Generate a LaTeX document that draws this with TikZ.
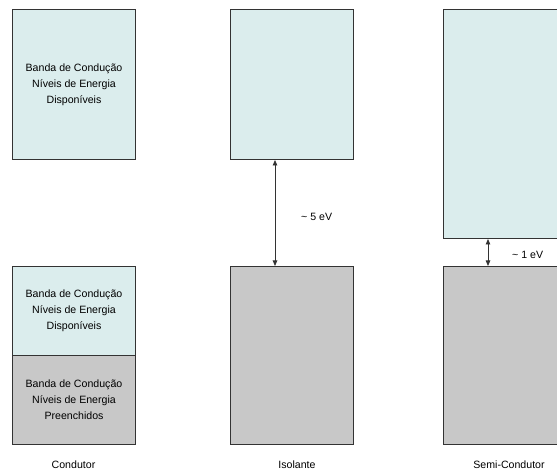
\documentclass[tikz,border=0pt]{standalone}
\usepackage{fontspec}
\setmainfont{Liberation Sans}
\usetikzlibrary{arrows.meta}
\definecolor{bandfree}{HTML}{DBEDED}
\definecolor{bandfull}{HTML}{C8C8C8}
\definecolor{edge}{HTML}{333333}
\begin{document}
\begin{tikzpicture}[x=1pt,y=1pt,
  band/.style={draw=edge, line width=1pt, inner sep=0pt, anchor=north west,
    minimum width=123pt, align=center, font=\fontsize{10.6}{16}\selectfont},
  free/.style={band, fill=bandfree},
  full/.style={band, fill=bandfull},
  gap/.style={draw=edge, line width=0.8pt, {Triangle[length=5.5pt,width=4.5pt]}-{Triangle[length=5.5pt,width=4.5pt]}},
  lbl/.style={font=\fontsize{10.6}{12}\selectfont, inner sep=0pt}]
\clip (0,0) rectangle (557,474);
\fill[white] (0,0) rectangle (557,474);
% Condutor
\node[free, minimum height=150pt] (c1) at (12,465) {Banda de Condução\\Níveis de Energia\\Disponíveis};
\node[free, minimum height=89pt] (c2) at (12,208) {Banda de Condução\\Níveis de Energia\\Disponíveis};
\node[full, minimum height=89pt] (c3) at (12,119) {Banda de Condução\\Níveis de Energia\\Preenchidos};
% Isolante
\node[free, minimum height=150pt] (i1) at (230,465) {};
\node[full, minimum height=178pt] (i2) at (230,208) {};
% Semi-Condutor
\node[free, minimum height=229pt, minimum width=140pt] (s1) at (443,465) {};
\node[full, minimum height=178pt, minimum width=140pt] (s2) at (443,208) {};
% gaps
\coordinate (ia) at (275,0 |- i1.south);
\coordinate (ib) at (275,0 |- i2.north);
\draw[gap] (ia) -- (ib);
\node[lbl, anchor=west] (ig) at (301,257) {\textasciitilde\ 5 eV};
\coordinate (sa) at (488,0 |- s1.south);
\coordinate (sb) at (488,0 |- s2.north);
\draw[gap] (sa) -- (sb);
\node[lbl, anchor=west] (sg) at (512,219) {\textasciitilde\ 1 eV};
% labels
\node[lbl] (lc) at (73.5,9) {Condutor};
\node[lbl] (li) at (297,9) {Isolante};
\node[lbl] (ls) at (509,9) {Semi-Condutor};
\end{tikzpicture}
\end{document}
